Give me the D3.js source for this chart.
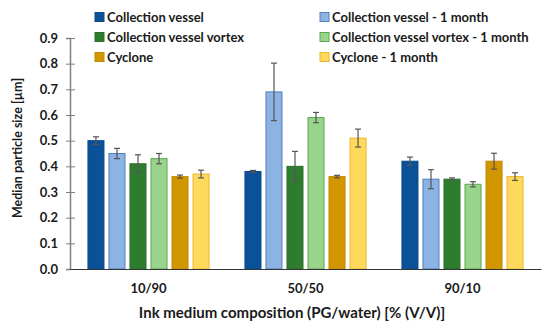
<!DOCTYPE html>
<html>
<head>
<meta charset="utf-8">
<script src="https://cdn.jsdelivr.net/npm/d3@7"></script>
<style>
  body { margin: 0; background: #fff; }
  svg text { font-family: Lato, "Open Sans", sans-serif; font-weight: bold; fill: #1a1a1a; }
</style>
</head>
<body>
<svg id="chart" width="550" height="328"></svg>
<script>
// chart data
var groups = ['10/90', '50/50', '90/10'];
var seriesNames = ['Collection vessel', 'Collection vessel - 1 month',
  'Collection vessel vortex', 'Collection vessel vortex - 1 month',
  'Cyclone', 'Cyclone - 1 month'];
var fillColors = ['#0b5198', '#8db3e2', '#2e7d2e', '#98d48b', '#d19600', '#ffd95c'];
var strokeColors = ['#0a4a8a', '#4f81bd', '#2a702a', '#5fa552', '#c08a00', '#e8b830'];
// median particle size per series, one value per group
var medians = [
  [0.50, 0.38, 0.42],
  [0.45, 0.69, 0.35],
  [0.41, 0.40, 0.35],
  [0.43, 0.59, 0.33],
  [0.36, 0.36, 0.42],
  [0.37, 0.51, 0.36]
];
var errors = [
  [0.015, 0.004, 0.016],
  [0.020, 0.112, 0.037],
  [0.035, 0.058, 0.005],
  [0.020, 0.020, 0.010],
  [0.006, 0.005, 0.031],
  [0.015, 0.035, 0.015]
];
var yTicks = [0, 0.1, 0.2, 0.3, 0.4, 0.5, 0.6, 0.7, 0.8, 0.9];

var svg = d3.select('#chart');

var y = d3.scaleLinear().domain([0, 0.9]).range([269, 38]);
var x0 = d3.scaleBand().domain(groups).range([70, 541]);
var x1 = d3.scaleBand().domain(seriesNames).range([0, x0.bandwidth()])
  .paddingInner(0.19).paddingOuter(0.83);

// flat list of bars
var bars = [];
seriesNames.forEach(function (s, si) {
  groups.forEach(function (g, gi) {
    bars.push({ series: s, si: si, group: g, value: medians[si][gi], err: errors[si][gi] });
  });
});

// bars
svg.append('g').selectAll('rect')
  .data(bars)
  .enter()
  .append('rect')
  .attr('x', function (d) { return x0(d.group) + x1(d.series) + 0.5; })
  .attr('y', function (d) { return y(d.value); })
  .attr('width', x1.bandwidth() - 1)
  .attr('height', function (d) { return y(0) - y(d.value); })
  .attr('fill', function (d) { return fillColors[d.si]; })
  .attr('stroke', function (d) { return strokeColors[d.si]; })
  .attr('stroke-width', 1);

// error bars
var eb = svg.append('g').attr('stroke', '#555').attr('stroke-width', 1.2)
  .selectAll('g').data(bars).enter().append('g')
  .attr('transform', function (d) {
    return 'translate(' + (x0(d.group) + x1(d.series) + x1.bandwidth() / 2) + ',0)';
  });
eb.append('line')
  .attr('y1', function (d) { return y(d.value + d.err); })
  .attr('y2', function (d) { return y(d.value - d.err); });
eb.append('line').attr('x1', -3).attr('x2', 3)
  .attr('y1', function (d) { return y(d.value + d.err); })
  .attr('y2', function (d) { return y(d.value + d.err); });
eb.append('line').attr('x1', -3).attr('x2', 3)
  .attr('y1', function (d) { return y(d.value - d.err); })
  .attr('y2', function (d) { return y(d.value - d.err); });

// y axis
var yAxis = svg.append('g').attr('transform', 'translate(70,0)')
  .call(d3.axisLeft(y).tickValues(yTicks).tickFormat(d3.format('.1f')).tickSize(4).tickPadding(8));
yAxis.select('.domain').attr('stroke', '#808080').attr('stroke-width', 1.5);
yAxis.selectAll('.tick line').attr('stroke', '#808080').attr('x1', 5).attr('x2', -4);
yAxis.selectAll('.tick text').attr('font-size', 13).attr('fill', '#1a1a1a')
  .attr('font-family', 'Lato, sans-serif').attr('font-weight', 'bold');

// x axis
var xAxis = svg.append('g').attr('transform', 'translate(0,269)')
  .call(d3.axisBottom(x0).tickSize(0).tickPadding(15));
xAxis.select('.domain').attr('stroke', '#333').attr('stroke-width', 1.2);
xAxis.selectAll('.tick text').attr('font-size', 13).attr('fill', '#1a1a1a')
  .attr('font-family', 'Lato, sans-serif').attr('font-weight', 'bold');

// axis titles
svg.append('text')
  .attr('transform', 'translate(22,148) rotate(-90)')
  .attr('text-anchor', 'middle')
  .attr('font-size', 12.5)
  .text('Median particle size [µm]');

svg.append('text')
  .attr('x', 292)
  .attr('y', 318)
  .attr('text-anchor', 'middle')
  .attr('font-size', 15)
  .text('Ink medium composition (PG/water) [% (V/V)]');

// legend, two columns
var legendX = [95, 320];
var legendY = [17, 37, 57];
var legend = svg.append('g').selectAll('g')
  .data(seriesNames)
  .enter()
  .append('g')
  .attr('transform', function (d, i) {
    return 'translate(' + legendX[i % 2] + ',' + legendY[Math.floor(i / 2)] + ')';
  });
legend.append('rect')
  .attr('x', 0).attr('y', -4.5).attr('width', 9).attr('height', 9)
  .attr('fill', function (d, i) { return fillColors[i]; })
  .attr('stroke', function (d, i) { return strokeColors[i]; });
legend.append('text')
  .attr('x', 12).attr('y', 4.5)
  .attr('font-size', 13)
  .text(function (d) { return d; });
</script>
</body>
</html>
